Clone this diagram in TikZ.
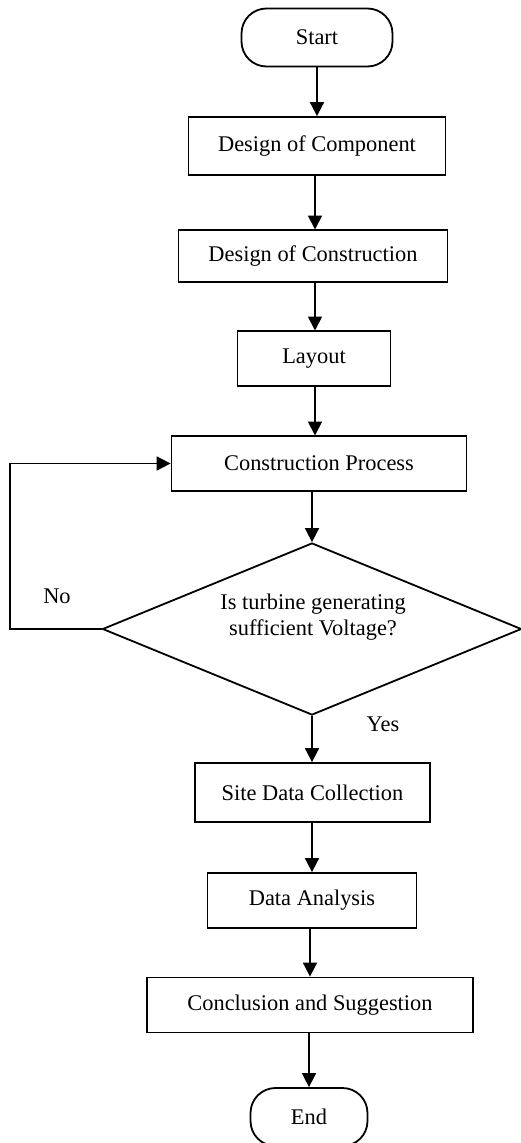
\documentclass[tikz,border=0pt]{standalone}
\usepackage{fontspec}
\setmainfont{Liberation Serif}
\usetikzlibrary{shapes.geometric,arrows.meta}
\begin{document}
\begin{tikzpicture}[x=1pt,y=-1pt,
  every node/.style={font=\fontsize{22.4pt}{26pt}\selectfont},
  boxnode/.style={draw, line width=1.8pt, inner sep=0pt, minimum width=#1},
  termnode/.style={draw, line width=1.8pt, rounded corners=25pt, inner sep=0pt, minimum width=#1, minimum height=58pt},
  decnode/.style={draw, diamond, line width=1.8pt, inner sep=0pt, minimum width=419pt, minimum height=172pt, aspect=2.44},
  arr/.style={line width=1.8pt, -{Triangle[length=14pt,width=14pt]}},
  lbl/.style={inner sep=0pt}]
\useasboundingbox (0,0) rectangle (521,1143);
\node[termnode=151pt] (start) at (317,37.5) {Start};
\node[boxnode=257pt, minimum height=58pt] (comp) at (317,146) {Design of Component};
\node[boxnode=269pt, minimum height=52pt] (cons) at (313,256) {Design of Construction};
\node[boxnode=153pt, minimum height=55pt] (layout) at (314,358.5) {Layout};
\node[boxnode=295pt, minimum height=55pt] (proc) at (319,463.5) {Construction Process};
\node[decnode] (dec) at (312,629) {};
\node[lbl, align=center] (dectext) at (313,617) {Is turbine generating\\sufficient Voltage?};
\node[boxnode=235pt, minimum height=59pt] (site) at (312.5,792.5) {Site Data Collection};
\node[boxnode=209pt, minimum height=55pt] (anal) at (312,900.5) {Data Analysis};
\node[boxnode=326pt, minimum height=55pt] (concl) at (310,1005) {Conclusion and Suggestion};
\node[termnode=117pt] (end) at (309,1117) {End};
\node[lbl] (no) at (57,596) {No};
\node[lbl] (yes) at (383,724) {Yes};
\coordinate (lp) at (10,629);
\draw[arr] (start.south) -- (start.south |- comp.north);
\draw[arr] (315,175) -- (315,229.5);
\draw[arr] (315,282) -- (315,330.5);
\draw[arr] (315,386) -- (315,435.5);
\draw[arr] (dec.north |- proc.south) -- (dec.north);
\draw[arr] (dec.south) -- (dec.south |- site.north);
\draw[arr] (site.south -| anal.north) -- (anal.north);
\draw[arr] (anal.south -| concl.north) -- (concl.north);
\draw[arr] (concl.south -| end.north) -- (end.north);
\draw[arr] (dec.west) -- (lp) |- (proc.west);
\end{tikzpicture}
\end{document}
